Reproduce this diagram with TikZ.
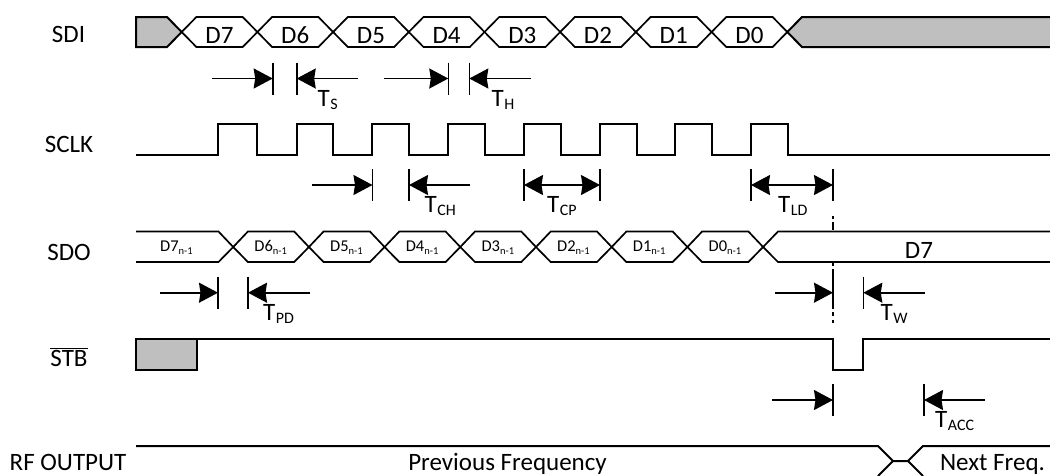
\documentclass[tikz,border=0pt]{standalone}
\usepackage{fontspec}
\setmainfont{Carlito}
\usetikzlibrary{arrows.meta}
\newcommand{\lowtxt}[3]{{\fontsize{#1}{#1}\selectfont\raisebox{-#2}{#3}}}
\newcommand{\TT}[1]{T\kern0.5pt\lowtxt{16}{3.2pt}{#1}}
\newcommand{\DN}[1]{D#1\lowtxt{10.5}{3pt}{n-1}}
\tikzset{
  x=1pt,y=-1pt,
  wave/.style={draw=black,line width=2pt,line join=miter},
  wavethin/.style={draw=black,line width=1.7pt,line join=miter},
  hatch/.style={wave,fill=black!25!white},
  tick/.style={draw=black,line width=1.6pt},
  dim/.style={draw=black,line width=1.6pt,-{Stealth[length=19pt,width=20pt,inset=1.5pt]}},
  dimb/.style={draw=black,line width=1.6pt,{Stealth[length=19pt,width=20pt,inset=1.5pt]}-{Stealth[length=19pt,width=20pt,inset=1.5pt]}},
  sig/.style={anchor=base,inner sep=0pt,font=\fontsize{25}{25}\selectfont},
  big/.style={anchor=base,inner sep=0pt,font=\fontsize{25}{25}\selectfont},
  small/.style={anchor=base,inner sep=0pt,font=\fontsize{16.5}{16.5}\selectfont},
  tlabel/.style={anchor=base west,inner sep=0pt,font=\fontsize{25}{25}\selectfont},
}
% #1 name, #2 left tick x, #3 right tick x, #4 y, #5 tail left x, #6 tail right x
\newcommand{\gapdim}[6]{%
  \coordinate (#1lt) at (#2,#4-16); \coordinate (#1lb) at (#2,#4+16);
  \coordinate (#1rt) at (#3,#4-16); \coordinate (#1rb) at (#3,#4+16);
  \coordinate (#1l) at (#2,#4); \coordinate (#1r) at (#3,#4);
  \coordinate (#1a) at (#5,#4); \coordinate (#1b) at (#6,#4);
  \draw[tick] (#1lt) -- (#1lb);
  \draw[tick] (#1rt) -- (#1rb);
  \draw[dim] (#1a) -- (#1l);
  \draw[dim] (#1b) -- (#1r);
}
\begin{document}
\begin{tikzpicture}
\useasboundingbox (0,0) rectangle (1050,475);
% labels
\node[sig] (lsdi) at (68.5,42) {SDI};
\node[sig] (lsclk) at (69,152) {SCLK};
\node[sig] (lsdo) at (69,260) {SDO};
\node[sig] (lstb) at (69,366) {$\overline{\mbox{STB}}$};
\node[sig,anchor=base west] (lrf) at (9.5,470.5) {RF OUTPUT};
% SDI
\draw[hatch] (136,17) -- (167,17) -- (181.7,32) -- (167,47) -- (136,47) -- cycle;
\draw[hatch] (1052,17) -- (802,17) -- (787.3,32) -- (802,47) -- (1052,47);
\foreach \k/\t in {0/D7,1/D6,2/D5,3/D4,4/D3,5/D2,6/D1,7/D0}{
  \pgfmathsetmacro{\c}{181.7+75.7*\k}
  \draw[wavethin] (\c,32) -- (\c+14.7,17) -- (\c+61,17) -- (\c+75.7,32) -- (\c+61,47) -- (\c+14.7,47) -- cycle;
  \node[big] (sdi\k) at (\c+37.8,43.3) {\t};
}
% SCLK
\draw[wave] (136,154.5) -- (218.3,154.5) -- (218.3,124) -- (257.3,124) -- (257.3,154.5)
  -- (296.7,154.5) -- (296.7,124) -- (333,124) -- (333,154.5)
  -- (372.3,154.5) -- (372.3,124) -- (409,124) -- (409,154.5)
  -- (448,154.5) -- (448,124) -- (485,124) -- (485,154.5)
  -- (524,154.5) -- (524,124) -- (561,124) -- (561,154.5)
  -- (600,154.5) -- (600,124) -- (637,124) -- (637,154.5)
  -- (675,154.5) -- (675,124) -- (712,124) -- (712,154.5)
  -- (751,154.5) -- (751,124) -- (788,124) -- (788,154.5)
  -- (1052,154.5);
% SDO
\draw[wavethin] (136,231.5) -- (218.5,231.5) -- (233.2,247) -- (218.5,262) -- (136,262);
\node[small] (sdon) at (176.5,251) {\DN{7}};
\foreach \k/\t in {0/6,1/5,2/4,3/3,4/2,5/1,6/0}{
  \pgfmathsetmacro{\c}{233.2+75.7*\k}
  \draw[wavethin] (\c,247) -- (\c+14.7,231.5) -- (\c+61,231.5) -- (\c+75.7,247) -- (\c+61,262) -- (\c+14.7,262) -- cycle;
  \node[small] (sdo\k) at (\c+37.5,251) {\DN{\t}};
}
\draw[wavethin] (1052,231.5) -- (778,231.5) -- (763.1,247) -- (778,262) -- (1052,262);
\node[big] (sdod) at (919,258) {D7};
% STB
\draw[hatch] (136,339) rectangle (197.3,369.5);
\draw[wave] (197.3,339) -- (833,339) -- (833,369.5) -- (863.3,369.5) -- (863.3,339) -- (1052,339);
% RF
\draw[wave] (136,446) -- (878,446) -- (893,461) -- (908,461) -- (923,446) -- (1052,446);
\draw[wave] (893,461) -- (878,476);
\draw[wave] (908,461) -- (923,476);
\node[big] (prev) at (507.5,470.5) {Previous Frequency};
\node[big] (next) at (992.5,470.5) {Next Freq.};
% timing
\gapdim{s}{272.7}{296.7}{78.5}{211.7}{358}
\node[tlabel] (ts) at (317.5,106) {\TT{S}};
\gapdim{h}{448.3}{469.3}{78.5}{384}{531}
\node[tlabel] (th) at (491.5,106) {\TT{H}};
\gapdim{ch}{372.5}{409}{185}{312}{470}
\node[tlabel] (tch) at (424.5,212.5) {\TT{CH}};
% T_CP
\coordinate (cpl) at (524,185); \coordinate (cpr) at (600,185);
\draw[tick] (524,169) -- (524,201);
\draw[tick] (600,169) -- (600,201);
\draw[dimb] (cpl) -- (cpr);
\node[tlabel] (tcp) at (547,212.5) {\TT{CP}};
% T_LD
\coordinate (ldl) at (751,185); \coordinate (ldr) at (833,185);
\draw[tick] (751,169) -- (751,201);
\draw[tick] (833,169) -- (833,201);
\draw[dimb] (ldl) -- (ldr);
\node[tlabel] (tld) at (778,212.5) {\TT{LD}};
\draw[tick] (833,216) -- (833,219) (833,221.5) -- (833,230);
\gapdim{pd}{218}{248}{292.7}{160}{310}
\node[tlabel] (tpd) at (263,320) {\TT{PD}};
% T_W
\coordinate (wl) at (833,292.7); \coordinate (wr) at (863.3,292.7);
\coordinate (wa) at (775,292.7); \coordinate (wb) at (925,292.7);
\draw[tick] (833,263) -- (833,266) (833,268.5) -- (833,308.5) (833,312) -- (833,316) (833,319.5) -- (833,323);
\draw[tick] (863.3,276.7) -- (863.3,308.7);
\draw[dim] (wa) -- (wl);
\draw[dim] (wb) -- (wr);
\node[tlabel] (tw) at (880.5,320) {\TT{W}};
\gapdim{acc}{833}{924}{400}{772}{985}
\node[tlabel] (tacc) at (935,427.5) {\TT{ACC}};
\end{tikzpicture}
\end{document}
